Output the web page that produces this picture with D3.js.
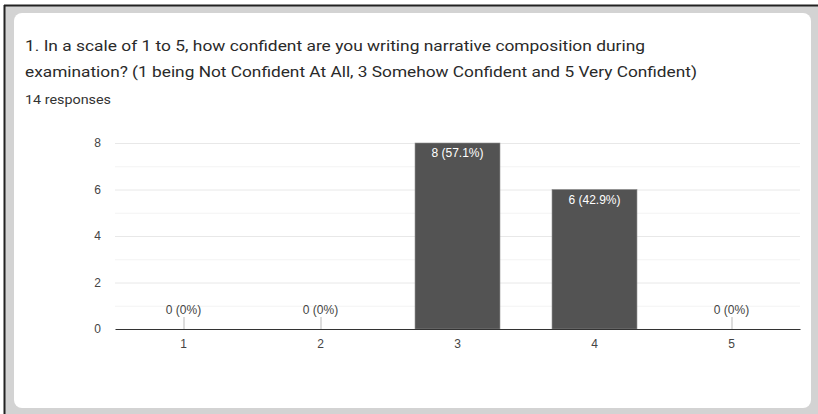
<!DOCTYPE html>
<html><head><meta charset="utf-8">
<script src="https://cdn.jsdelivr.net/npm/d3@7"></script>
<style>html,body{margin:0;padding:0;background:#fff;}svg{display:block;}</style>
</head><body>
<svg id="c" width="818" height="414"></svg>
<script>
const categories = ["1","2","3","4","5"];
const counts = [0,0,8,6,0];
const labels = ["0 (0%)","0 (0%)","8 (57.1%)","6 (42.9%)","0 (0%)"];
const yTicks = [0,2,4,6,8];
const titleLines = ["1. In a scale of 1 to 5, how confident are you writing narrative composition during",
  "examination? (1 being Not Confident At All, 3 Somehow Confident and 5 Very Confident)"];
const subtitle = "14 responses";

const svg = d3.select("#c");
// frame
svg.append("rect").attr("x",4).attr("y",5).attr("width",814).attr("height",409).attr("fill","#d3d3d3");
svg.append("line").attr("x1",4.5).attr("x2",4.5).attr("y1",5).attr("y2",414).attr("stroke","#222").attr("stroke-width",2);
svg.append("line").attr("x1",4).attr("x2",818).attr("y1",5.5).attr("y2",5.5).attr("stroke","#222").attr("stroke-width",2);
svg.append("rect").attr("x",14).attr("y",13).attr("width",797).attr("height",395).attr("rx",8).attr("fill","#fff");

// title
const tf = "Roboto, 'Noto Sans', Arial, sans-serif";
const t1 = svg.append("text").attr("x",25).attr("y",51).attr("font-family",tf).attr("font-size",15.5).attr("fill","#2a2a2a").text(titleLines[0]);
const t2 = svg.append("text").attr("x",25).attr("y",77).attr("font-family",tf).attr("font-size",15.5).attr("fill","#2a2a2a").text(titleLines[1]);
const t3 = svg.append("text").attr("x",25).attr("y",104).attr("font-family",tf).attr("font-size",12.5).attr("fill","#333").text(subtitle);
[[t1,620],[t2,672],[t3,86]].forEach(([t,w])=>{ t.attr("textLength",w).attr("lengthAdjust","spacingAndGlyphs"); });

const x = d3.scaleBand().domain(categories).range([115,800]).paddingInner(0.38).paddingOuter(0.19);
const y = d3.scaleLinear().domain([0,8]).range([329,143]);

const af = "Arial, 'Liberation Sans', sans-serif";
// gridlines
const g = svg.append("g");
g.selectAll("line.minor").data(d3.range(1,8,2)).join("line")
  .attr("x1",115).attr("x2",800).attr("y1",d=>y(d)+0.5).attr("y2",d=>y(d)+0.5).attr("stroke","#f3f3f3");
g.selectAll("line.major").data(yTicks.filter(d=>d>0)).join("line")
  .attr("x1",115).attr("x2",800).attr("y1",d=>y(d)+0.5).attr("y2",d=>y(d)+0.5).attr("stroke","#e8e8e8");

// y axis labels
const yAxis = d3.axisLeft(y).tickValues(yTicks).tickSize(0).tickPadding(14);
const ya = svg.append("g").attr("transform","translate(115,0)").call(yAxis);
ya.select(".domain").remove();
ya.selectAll("text").attr("font-family",af).attr("font-size",12).attr("fill","#444");

// bars
svg.selectAll("rect.bar").data(categories).join("rect").attr("class","bar")
  .attr("x",d=>x(d)).attr("width",x.bandwidth())
  .attr("y",(d,i)=>y(counts[i])).attr("height",(d,i)=>y(0)-y(counts[i]))
  .attr("fill","#535353").attr("stroke","#8a8a8a").attr("stroke-width",0.6);

// zero stems
svg.selectAll("line.stem").data(categories.filter((d,i)=>counts[i]===0)).join("line")
  .attr("x1",d=>x(d)+x.bandwidth()/2+0.5).attr("x2",d=>x(d)+x.bandwidth()/2+0.5)
  .attr("y1",y(0)-12).attr("y2",y(0)).attr("stroke","#bbb");

// value labels
svg.selectAll("text.val").data(categories).join("text")
  .attr("x",d=>x(d)+x.bandwidth()/2)
  .attr("y",(d,i)=>counts[i]===0 ? y(0)-15 : y(counts[i])+14)
  .attr("text-anchor","middle").attr("font-family",af).attr("font-size",12)
  .attr("fill",(d,i)=>counts[i]===0?"#444":"#fff").text((d,i)=>labels[i]);

// x axis
const xAxis = d3.axisBottom(x).tickSize(0).tickPadding(10);
const xa = svg.append("g").attr("transform",`translate(0,${y(0)})`).call(xAxis);
xa.select(".domain").attr("stroke","#333").attr("stroke-width",1.2);
xa.selectAll("text").attr("font-family",af).attr("font-size",12).attr("fill","#444");
</script>
</body></html>
